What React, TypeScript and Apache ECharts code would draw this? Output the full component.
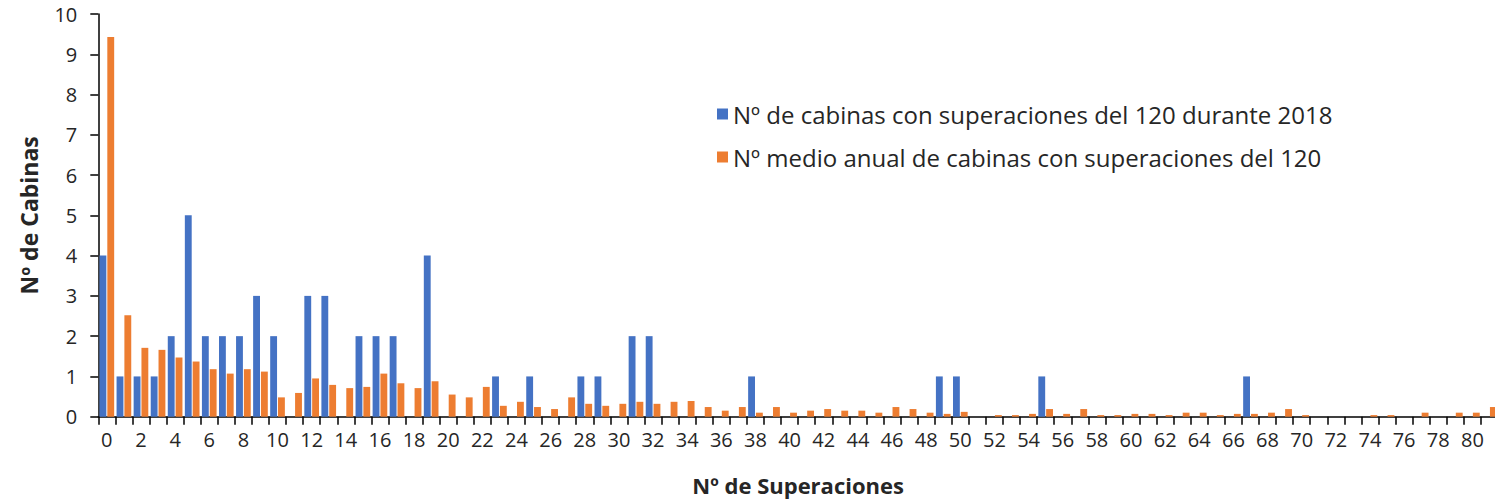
import React, { useEffect, useRef } from "react";
import * as echarts from "echarts";

const categories: string[] = Array.from({ length: 82 }, (_, i) => String(i));

const seriesNames = [
  "Nº de cabinas con superaciones del 120 durante 2018",
  "Nº medio anual de cabinas con superaciones del 120",
];

// Nº de cabinas con superaciones del 120 durante 2018 (categories 0..81)
const cabinas2018: number[] = [
  4, 1, 1, 1, 2, 5, 2, 2, 2, 3,
  2, 0, 3, 3, 0, 2, 2, 2, 0, 4,
  0, 0, 0, 1, 0, 1, 0, 0, 1, 1,
  0, 2, 2, 0, 0, 0, 0, 0, 1, 0,
  0, 0, 0, 0, 0, 0, 0, 0, 0, 1,
  1, 0, 0, 0, 0, 1, 0, 0, 0, 0,
  0, 0, 0, 0, 0, 0, 0, 1, 0, 0,
  0, 0, 0, 0, 0, 0, 0, 0, 0, 0,
  0, 0,
];

// Nº medio anual de cabinas con superaciones del 120
const cabinasMedio: number[] = [
  9.43, 2.52, 1.71, 1.66, 1.47, 1.37, 1.18, 1.07, 1.18, 1.12,
  0.48, 0.59, 0.95, 0.79, 0.71, 0.74, 1.07, 0.83, 0.71, 0.88,
  0.55, 0.48, 0.74, 0.27, 0.37, 0.24, 0.19, 0.48, 0.32, 0.27,
  0.32, 0.37, 0.32, 0.37, 0.39, 0.24, 0.15, 0.24, 0.1, 0.24,
  0.1, 0.15, 0.19, 0.15, 0.15, 0.1, 0.24, 0.19, 0.1, 0.07,
  0.12, 0, 0.04, 0.04, 0.07, 0.19, 0.07, 0.19, 0.04, 0.04,
  0.07, 0.07, 0.04, 0.1, 0.1, 0.04, 0.07, 0.07, 0.1, 0.19,
  0.04, 0, 0, 0, 0.04, 0.04, 0, 0.1, 0, 0.1,
  0.1, 0.24,
];

const yTicks = { min: 0, max: 10, interval: 1 };

const FONT = "'Open Sans', sans-serif";

export default function App() {
  const ref = useRef<HTMLDivElement>(null);

  useEffect(() => {
    if (!ref.current) return;
    const chart = echarts.init(ref.current, undefined, { renderer: "svg" });
    chart.setOption({
      animation: false,
      backgroundColor: "#ffffff",
      textStyle: { fontFamily: FONT },
      grid: {
        left: 98.3,
        right: -3,
        top: 14,
        bottom: 83.3,
        containLabel: false,
        outerBoundsMode: "none",
      },
      legend: {
        orient: "vertical",
        left: 712,
        top: 97,
        itemWidth: 11,
        itemHeight: 11,
        itemGap: 19,
        icon: "rect",
        textStyle: { fontSize: 24, color: "#262626", fontFamily: FONT },
        data: seriesNames,
      },
      xAxis: {
        type: "category",
        data: categories,
        name: "Nº de Superaciones",
        nameLocation: "middle",
        nameGap: 56,
        nameTextStyle: { fontSize: 22, fontWeight: "bold", color: "#262626", fontFamily: FONT, lineHeight: 24 },
        axisLine: { lineStyle: { color: "#000000", width: 1.5 } },
        axisTick: { show: true, interval: 0, length: 8, lineStyle: { color: "#000000", width: 1.5 } },
        axisLabel: { interval: 1, fontSize: 20, color: "#262626", margin: 13, fontFamily: FONT },
        splitLine: { show: false },
      },
      yAxis: {
        type: "value",
        min: yTicks.min,
        max: yTicks.max,
        interval: yTicks.interval,
        name: "Nº de Cabinas",
        nameLocation: "middle",
        nameRotate: 90,
        nameGap: 58,
        nameTextStyle: { fontSize: 23, fontWeight: "bold", color: "#262626", fontFamily: FONT },
        axisLine: { show: true, lineStyle: { color: "#000000", width: 1.5 } },
        axisTick: { show: true, length: 8, lineStyle: { color: "#000000", width: 1.5 } },
        axisLabel: { fontSize: 20, color: "#262626", margin: 21, fontFamily: FONT },
        splitLine: { show: false },
      },
      series: [
        {
          name: seriesNames[0],
          type: "bar",
          data: cabinas2018,
          itemStyle: { color: "#4472C4" },
          barGap: "14%",
          barCategoryGap: "14%",
        },
        {
          name: seriesNames[1],
          type: "bar",
          data: cabinasMedio,
          itemStyle: { color: "#ED7D31" },
          barGap: "14%",
          barCategoryGap: "14%",
        },
      ],
    });
    return () => chart.dispose();
  }, []);

  return (
    <div
      ref={ref}
      style={{ position: "fixed", left: 0, top: 0, width: 1495, height: 500, background: "#fff" }}
    />
  );
}
